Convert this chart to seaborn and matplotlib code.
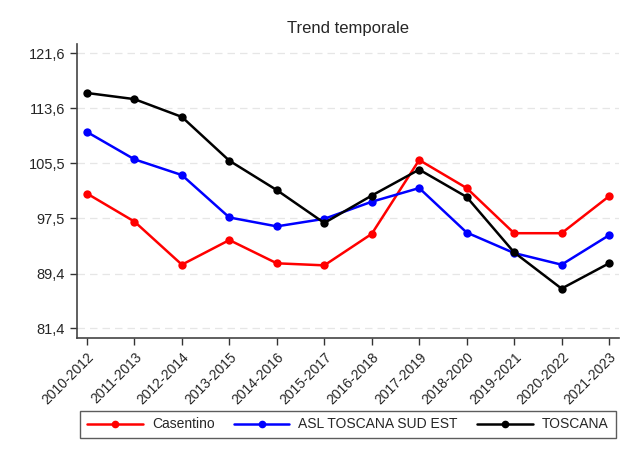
import pandas as pd
import matplotlib.pyplot as plt
import seaborn as sns
from matplotlib.lines import Line2D

# Periodi (trienni mobili)
periodi = ['2010-2012', '2011-2013', '2012-2014', '2013-2015', '2014-2016', '2015-2017',
           '2016-2018', '2017-2019', '2018-2020', '2019-2021', '2020-2022', '2021-2023']

casentino = [101.1, 97.0, 90.7, 94.3, 90.9, 90.6, 95.2, 106.0, 101.9, 95.3, 95.3, 100.7]
asl_sud_est = [110.1, 106.1, 103.8, 97.6, 96.3, 97.4, 99.9, 101.9, 95.4, 92.4, 90.7, 95.0]
toscana = [115.8, 114.9, 112.3, 105.9, 101.6, 96.8, 100.8, 104.6, 100.6, 92.5, 87.2, 90.9]

serie = ['Casentino', 'ASL TOSCANA SUD EST', 'TOSCANA']
colori = ['#ff0000', '#0000ff', '#000000']
y_ticks = [81.4, 89.4, 97.5, 105.5, 113.6, 121.6]

df = pd.DataFrame({
    'Periodo': periodi * 3,
    'Valore': casentino + asl_sud_est + toscana,
    'Area': [s for s in serie for _ in periodi],
})
df['x'] = df['Periodo'].map({p: i for i, p in enumerate(periodi)})

sns.set_style('white')
plt.rcParams['font.family'] = ['Liberation Sans', 'DejaVu Sans']

fig = plt.figure(figsize=(6.31, 4.58), dpi=100)
ax = fig.add_axes([77 / 631, 1 - 338 / 458, (619 - 77) / 631, (338 - 44) / 458])

sns.lineplot(data=df, x='x', y='Valore', hue='Area', hue_order=serie, palette=colori,
             marker='o', markersize=6, markeredgewidth=0, linewidth=1.8, legend=False, ax=ax)

ax.set_xlim(-0.21, len(periodi) - 1 + 0.21)
ax.set_ylim(79.98, 122.96)
ax.set_xticks(range(len(periodi)))
ax.set_xticklabels(periodi, rotation=45, ha='right', rotation_mode='anchor', fontsize=10)
ax.set_yticks(y_ticks)
ax.set_yticklabels([f'{v:.1f}'.replace('.', ',') for v in y_ticks], fontsize=10.5)
ax.tick_params(axis='both', direction='out', length=5, width=1, color='#333333', left=True, bottom=True)
ax.set_xlabel('')
ax.set_ylabel('')
ax.set_title('Trend temporale', fontsize=12, pad=8)

for v in y_ticks:
    ax.axhline(v, color='#e6e6e6', linestyle=(0, (6, 4)), linewidth=0.9, zorder=0)

sns.despine(ax=ax)
for s in ['left', 'bottom']:
    ax.spines[s].set_color('#444444')
    ax.spines[s].set_linewidth(1.2)

maniglie = [Line2D([0], [0], color=c, marker='o', markersize=4.5, linewidth=1.8) for c in colori]
leg = fig.legend(maniglie, serie, loc='center', bbox_to_anchor=(348 / 631, 1 - 424.5 / 458), ncol=3,
                 frameon=True, fancybox=False, fontsize=10, handlelength=4.0, handletextpad=0.65,
                 columnspacing=1.4, borderpad=0.5, borderaxespad=0, edgecolor='#333333')
leg.get_frame().set_linewidth(1)

fig.savefig('out.png', dpi=100)
